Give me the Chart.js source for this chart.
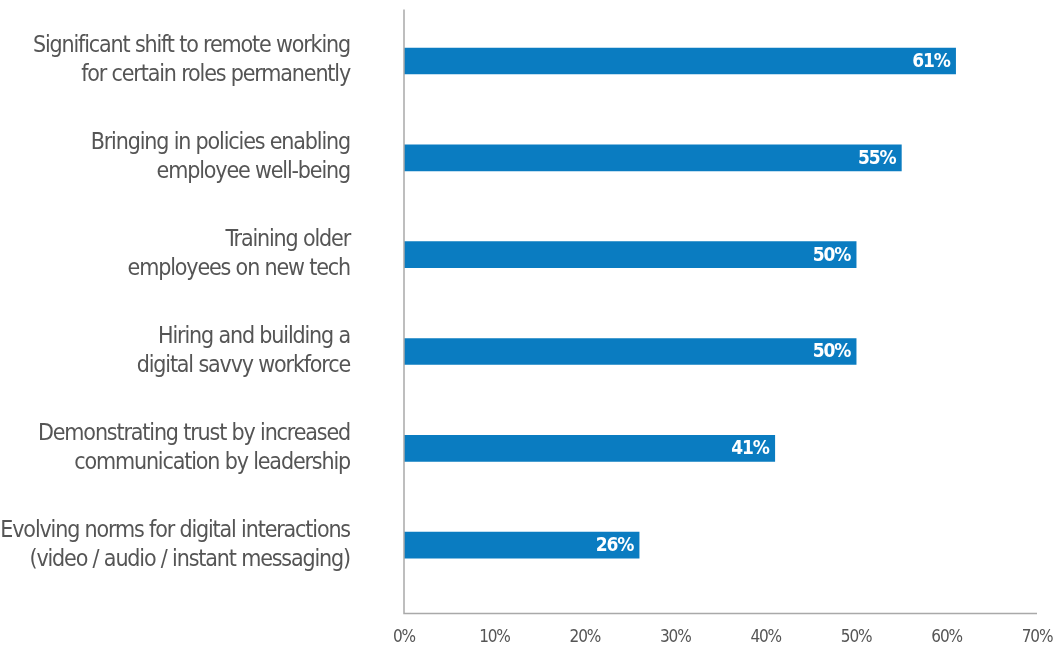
<!DOCTYPE html>
<html>
<head>
<meta charset="utf-8">
<script src="https://cdn.jsdelivr.net/npm/chart.js@4/dist/chart.umd.min.js"></script>
<style>
  html, body { margin: 0; padding: 0; background: #fff; }
  #wrap { width: 1062px; height: 647px; }
</style>
</head>
<body>
<div id="wrap"><canvas id="grafico"></canvas></div>
<script>
const categorias = [
    ["Significant shift to remote working", "for certain roles permanently"],
    ["Bringing in policies enabling", "employee well-being"],
    ["Training older", "employees on new tech"],
    ["Hiring and building a", "digital savvy workforce"],
    ["Demonstrating trust by increased", "communication by leadership"],
    ["Evolving norms for digital interactions", "(video / audio / instant messaging)"]
];
const valores = [61, 55, 50, 50, 41, 26];
const ticksX = [0, 10, 20, 30, 40, 50, 60, 70];

const fonte = '"DejaVu Sans Condensed", "Liberation Sans Narrow", sans-serif';

// fonte condensada: aperta o espaçamento das letras
const aperto = {
    id: "aperto",
    beforeLayout(chart) { chart.ctx.letterSpacing = "-1.15px"; },
    beforeDraw(chart) { chart.ctx.letterSpacing = "-1.15px"; }
};

// desenha os eixos cinzas (um pouco além da área do gráfico, como no original)
const eixos = {
    id: "eixos",
    afterDraw(chart) {
        const { ctx, chartArea } = chart;
        ctx.save();
        ctx.strokeStyle = "#a9a9a9";
        ctx.lineWidth = 1.5;
        ctx.beginPath();
        ctx.moveTo(chartArea.left, chartArea.top - 3);
        ctx.lineTo(chartArea.left, chartArea.bottom + 20);
        ctx.lineTo(chartArea.right, chartArea.bottom + 20);
        ctx.stroke();
        ctx.restore();
    }
};

// rótulos brancos dentro do fim da barra
const rotulos = {
    id: "rotulos",
    afterDatasetsDraw(chart) {
        const { ctx } = chart;
        const meta = chart.getDatasetMeta(0);
        ctx.save();
        ctx.fillStyle = "#ffffff";
        ctx.font = "bold 19px " + fonte;
        ctx.textAlign = "right";
        ctx.textBaseline = "middle";
        meta.data.forEach((bar, i) => {
            ctx.fillText(valores[i] + "%", bar.x - 6, bar.y + 1);
        });
        ctx.restore();
    }
};

const ctx = document.getElementById("grafico").getContext("2d");
new Chart(ctx, {
    type: "bar",
    data: {
        labels: categorias,
        datasets: [{
            data: valores,
            backgroundColor: "#0a7cc1",
            barThickness: 26
        }]
    },
    options: {
        indexAxis: "y",
        responsive: true,
        maintainAspectRatio: false,
        animation: false,
        layout: { padding: { top: 12.6, right: 25, bottom: 0, left: 0 } },
        plugins: {
            legend: { display: false },
            tooltip: { enabled: false }
        },
        scales: {
            x: {
                min: 0,
                max: 70,
                afterBuildTicks(scale) {
                    scale.ticks = ticksX.map(v => ({ value: v }));
                },
                afterFit(scale) {
                    scale.height = 53.4;
                    scale.paddingLeft = 0;
                    scale.paddingRight = 0;
                },
                grid: { display: false, drawTicks: false },
                border: { display: false },
                ticks: {
                    padding: 34,
                    color: "#555555",
                    font: { family: fonte, size: 17 },
                    callback: v => v + "%"
                }
            },
            y: {
                afterFit(scale) {
                    scale.width = 404;
                    scale.paddingTop = 0;
                    scale.paddingBottom = 0;
                },
                grid: { display: false, drawTicks: false },
                border: { display: false },
                ticks: {
                    padding: 54,
                    color: "#555555",
                    font: { family: fonte, size: 23, lineHeight: 1.26 }
                }
            }
        }
    },
    plugins: [aperto, eixos, rotulos]
});
</script>
</body>
</html>
